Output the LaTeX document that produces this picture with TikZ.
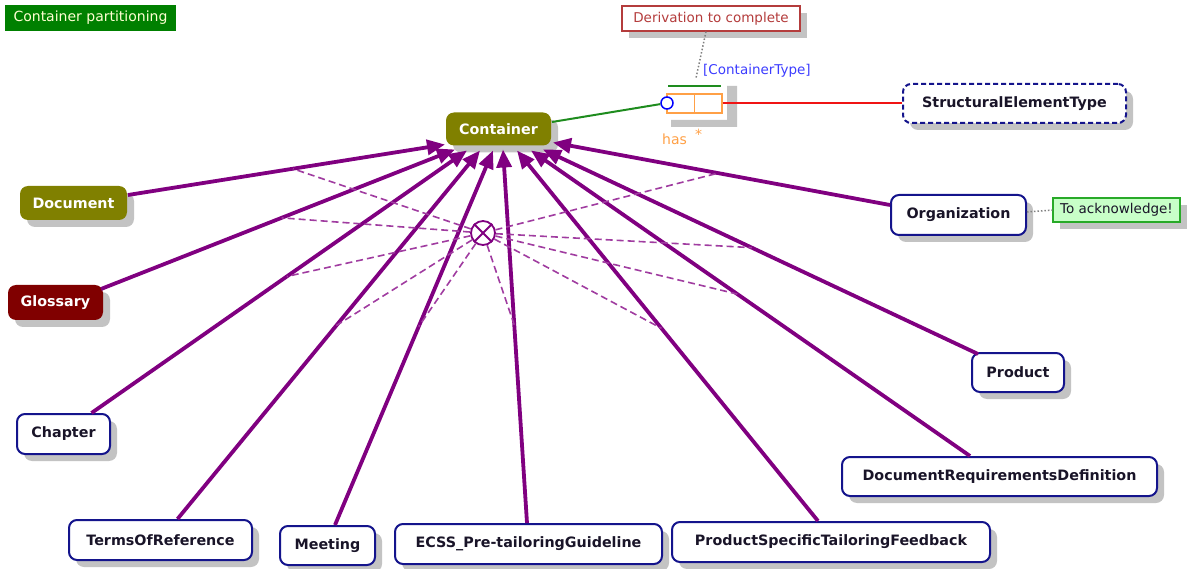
\documentclass[tikz,border=0pt]{standalone}
\usepackage{fontspec}
\setmainfont{DejaVu Sans}
\usetikzlibrary{arrows.meta,shadows,calc}

\definecolor{umlpurple}{RGB}{128,0,128}
\definecolor{xorpurple}{RGB}{160,60,160}
\definecolor{navyline}{RGB}{20,20,140}
\definecolor{labeltext}{RGB}{25,20,40}
\definecolor{olivefill}{RGB}{128,128,0}
\definecolor{maroonfill}{RGB}{128,0,0}
\definecolor{titlegreen}{RGB}{0,128,0}
\definecolor{titletext}{RGB}{255,255,210}
\definecolor{assocgreen}{RGB}{30,140,30}
\definecolor{assocred}{RGB}{240,20,20}
\definecolor{roleorange}{RGB}{255,160,70}
\definecolor{typeblue}{RGB}{60,60,255}
\definecolor{notered}{RGB}{180,60,60}
\definecolor{notegreenfill}{RGB}{200,255,200}
\definecolor{notegreenline}{RGB}{40,170,40}
\definecolor{shadowgray}{RGB}{195,195,195}

\begin{document}
\begin{tikzpicture}[x=1pt,y=-1pt,
  shade/.style={drop shadow={shadow xshift=7pt,shadow yshift=-7pt,fill=shadowgray,opacity=1}},
  cls/.style={draw=navyline, line width=2pt, fill=white, rounded corners=8pt,
    inner sep=0pt, text=labeltext, font=\bfseries\fontsize{14.3}{16}\selectfont, shade},
  filledcls/.style={cls, draw=none, text=white},
  typecls/.style={cls, dash pattern=on 5pt off 3pt},
  notebox/.style={line width=1.2pt, inner sep=0pt, font=\fontsize{13.5}{16}\selectfont, shade},
  genline/.style={draw=umlpurple, line width=3.8pt, -{Triangle[length=18pt,width=15pt]}},
  xorlink/.style={draw=xorpurple, line width=1.6pt, dash pattern=on 7pt off 4pt},
  noteline/.style={draw=gray, line width=1.5pt, dotted}
]
\useasboundingbox (0,0) rectangle (1194,569);

% diagram title
\node[fill=titlegreen, text=titletext, inner sep=0pt, minimum width=171pt, minimum height=26pt,
  font=\fontsize{14}{16}\selectfont] (hdr) at (90.5,18) {Container partitioning};

% classes
\node[filledcls, fill=olivefill, minimum width=105pt, minimum height=33pt] (ctr) at (498.5,129) {Container};
\node[filledcls, fill=olivefill, minimum width=107pt, minimum height=34pt] (doc) at (73.5,203) {Document};
\node[filledcls, fill=maroonfill, minimum width=95pt, minimum height=35pt] (glo) at (55.5,302.5) {Glossary};
\node[cls, minimum width=93pt, minimum height=40pt] (chap) at (63.5,434) {Chapter};
\node[cls, minimum width=183pt, minimum height=40pt] (tor) at (160.5,540) {TermsOfReference};
\node[cls, minimum width=95pt, minimum height=39pt] (meet) at (327.5,545.5) {Meeting};
\node[cls, minimum width=267pt, minimum height=40pt] (ecss) at (528.5,544) {ECSS\_Pre-tailoringGuideline};
\node[cls, minimum width=318pt, minimum height=40pt] (psf) at (831,542) {ProductSpecificTailoringFeedback};
\node[cls, minimum width=315pt, minimum height=39pt] (drd) at (999.5,476.5) {DocumentRequirementsDefinition};
\node[cls, minimum width=92pt, minimum height=39pt] (prod) at (1018,372.5) {Product};
\node[cls, minimum width=135pt, minimum height=40pt] (org) at (958.5,215) {Organization};
\node[typecls, minimum width=223pt, minimum height=39pt] (set) at (1014.5,103.5) {StructuralElementType};

% notes
\node[notebox, draw=notered, fill=white, text=notered, minimum width=178pt, minimum height=25pt]
  (drvnote) at (711,18.5) {Derivation to complete};
\node[notebox, draw=notegreenline, fill=notegreenfill, text=labeltext, minimum width=127pt, minimum height=24pt]
  (acknote) at (1116.5,210) {To acknowledge!};

% association Container -- StructuralElementType (qualified by ContainerType)
\fill[shadowgray] (727,86) -- (737,86) -- (737,127) -- (671,127) -- (671,120) -- (727,120) -- cycle;
\node[draw=roleorange, fill=white, line width=1.5pt, inner sep=0pt,
  minimum width=55pt, minimum height=19pt] (qual) at (694.5,103.5) {};
\draw[roleorange, line width=1.5pt] (qual.north) -- (qual.south);
\draw[assocgreen, line width=1.5pt] ($(qual.north west)+(2,-7)$) -- ($(qual.north east)+(-2,-7)$);
\node[circle, draw=blue, fill=white, line width=1.5pt, inner sep=0pt, minimum size=12pt] (aend) at (667,103) {};
\draw[assocgreen, line width=2pt] ($(ctr.east)+(0,-7)$) -- (aend);
\draw[assocred, line width=2pt] (qual.east) -- (set.west);
\node[anchor=west, inner sep=0pt, text=typeblue, font=\fontsize{13.5}{16}\selectfont] (ctlab) at (703,71) {[ContainerType]};
\node[anchor=west, inner sep=0pt, text=roleorange, font=\fontsize{14}{16}\selectfont] (haslab) at (662,139) {has};
\node[anchor=west, inner sep=0pt, text=roleorange, font=\fontsize{14}{16}\selectfont] (mult) at (695,134) {*};
\coordinate (ctpin) at ($(ctlab.west)+(-7,7)$);
\draw[noteline] ($(drvnote.south)+(-5,0)$) -- (ctpin);
\draw[noteline] ($(org.east)+(0,-3)$) -- (acknote.west);

% generalizations to Container
\draw[genline] ($(doc.east)+(0,-8)$) -- coordinate[pos=.52] (g1) ($(ctr.south west)+(0,-2)$);
\draw[genline] ($(glo.north east)+(-3,5)$) -- coordinate[pos=.51] (g2) ($(ctr.south west)+(10,3)$);
\draw[genline] ($(chap.north)+(28,0)$) -- coordinate[pos=.52] (g3) ($(ctr.south west)+(22,4)$);
\draw[genline] ($(tor.north)+(17,0)$) -- coordinate[pos=.525] (g4) ($(ctr.south west)+(35,4)$);
\draw[genline] ($(meet.north)+(7.5,0)$) -- coordinate[pos=.53] (g5) ($(ctr.south west)+(48,4)$);
\draw[genline] ($(ecss.north)+(-1.5,0)$) -- coordinate[pos=.53] (g6) ($(ctr.south west)+(58,3)$);
\draw[genline] ($(psf.north)+(-13,0)$) -- coordinate[pos=.52] (g7) ($(ctr.south west)+(72,4)$);
\draw[genline] ($(drd.north)+(-29.5,0)$) -- coordinate[pos=.53] (g8) ($(ctr.south west)+(86,4)$);
\draw[genline] ($(prod.north)+(-40,2)$) -- coordinate[pos=.52] (g9) ($(ctr.south west)+(98,3)$);
\draw[genline] ($(org.west)+(0,-10)$) -- coordinate[pos=.51] (g10) ($(ctr.south east)+(1,-4)$);

% exclusive-or constraint over the generalization set
\node[circle, draw=umlpurple, fill=white, line width=1.8pt, inner sep=0pt, minimum size=24pt] (xor) at (483,233) {};
\draw[umlpurple, line width=1.8pt] (xor.north west) -- (xor.south east) (xor.north east) -- (xor.south west);
\foreach \g in {g1,g2,g3,g4,g5,g6,g7,g8,g9,g10}
  \draw[xorlink] (xor) -- (\g);
\end{tikzpicture}
\end{document}
